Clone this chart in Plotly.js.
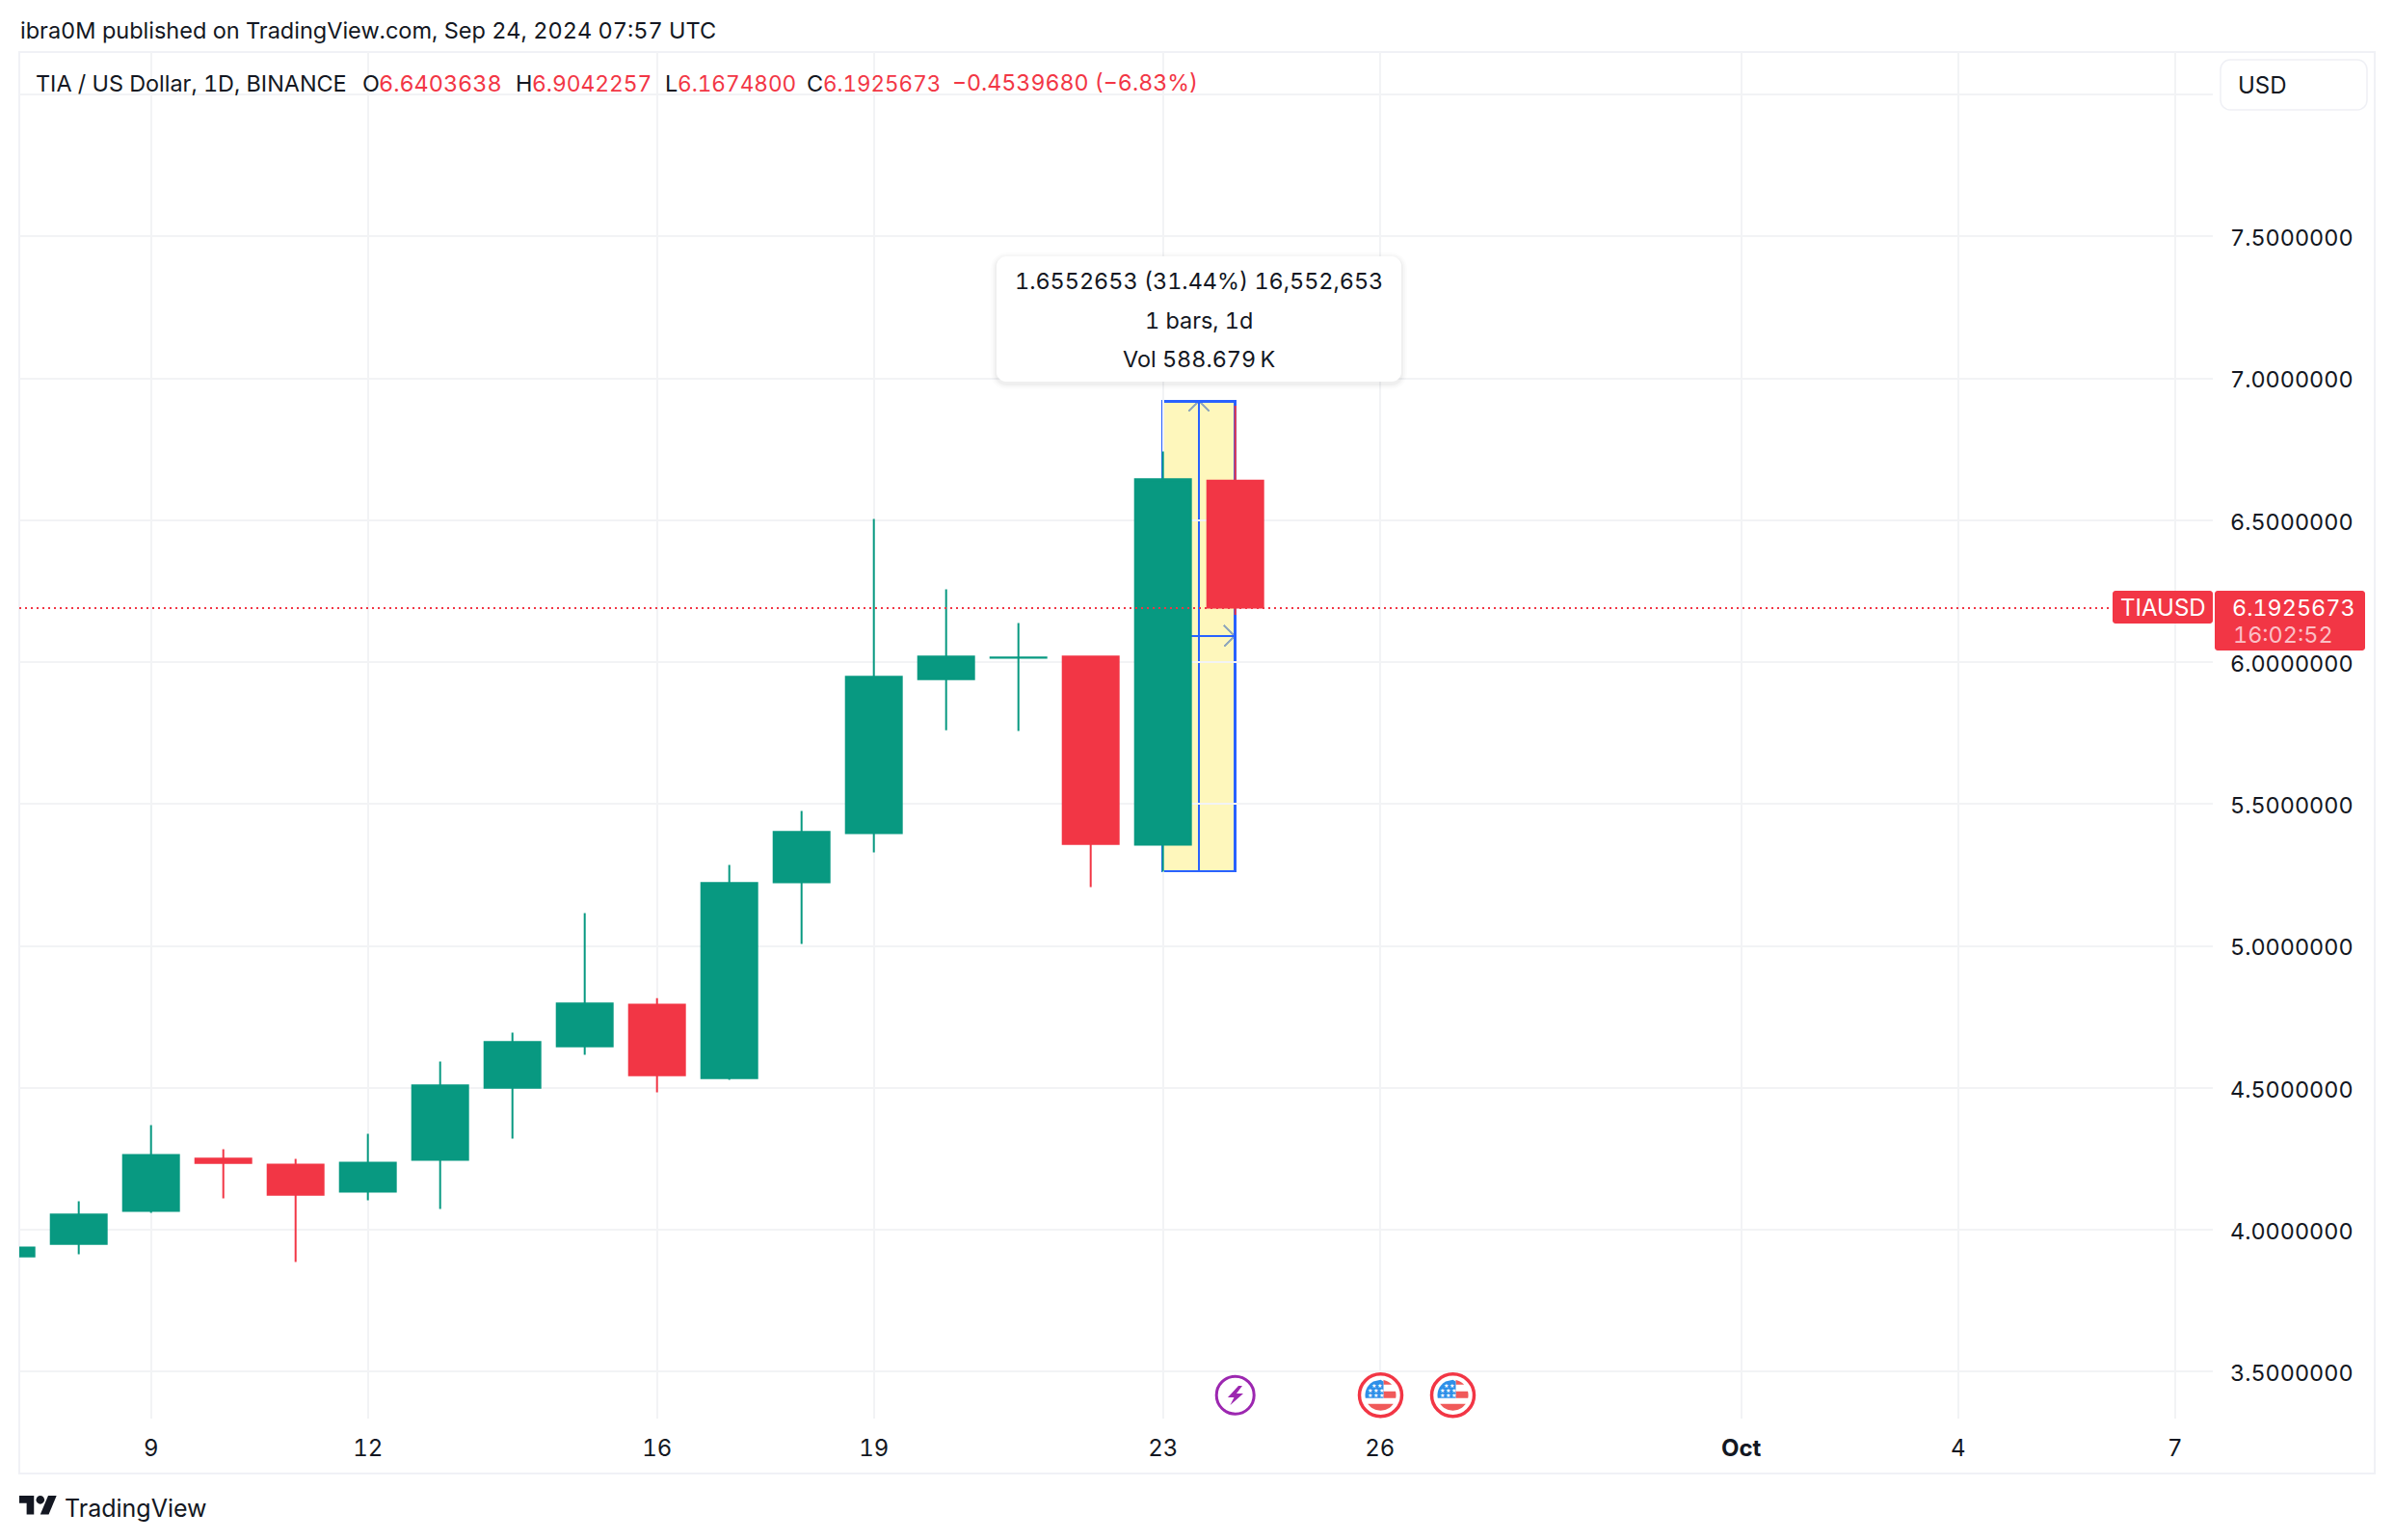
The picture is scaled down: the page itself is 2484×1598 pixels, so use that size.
<!DOCTYPE html>
<html><head><meta charset="utf-8">
<script src="https://cdn.plot.ly/plotly-3.0.1.min.js"></script>
<style>html,body{margin:0;padding:0;background:#fff}#c{width:2484px;height:1598px}
svg text{font-variant-numeric:tabular-nums;font-feature-settings:"tnum" 1}
.layer-below .shapelayer path,.cartesianlayer .shapelayer path{shape-rendering:crispEdges}
.shapelayer path[style*="dasharray"]{shape-rendering:crispEdges}
</style>
</head><body><div id="c"></div>
<script>
// ---- data ----
const dates = ['2024-09-07','2024-09-08','2024-09-09','2024-09-10','2024-09-11','2024-09-12','2024-09-13','2024-09-14','2024-09-15','2024-09-16','2024-09-17','2024-09-18','2024-09-19','2024-09-20','2024-09-21','2024-09-22','2024-09-23','2024-09-24'];
const opens  = [3.907,3.951,4.067,4.251,4.230,4.135,4.247,4.501,4.647,4.794,4.535,5.225,5.398,5.941,6.016,6.020,5.357,6.6403638];
const highs  = [3.960,4.101,4.369,4.284,4.250,4.339,4.593,4.695,5.116,4.817,5.286,5.476,6.505,6.257,6.138,6.023,6.743,6.9042257];
const lows   = [3.890,3.914,4.060,4.111,3.887,4.104,4.074,4.322,4.617,4.485,4.529,5.008,5.330,5.761,5.758,5.208,5.262,6.1674800];
const closes = [3.938,4.054,4.264,4.236,4.124,4.237,4.509,4.662,4.798,4.545,5.222,5.402,5.949,6.020,6.017,5.360,6.645,6.1925673];
const xTickVals = ['2024-09-09','2024-09-12','2024-09-16','2024-09-19','2024-09-23','2024-09-26','2024-10-01','2024-10-04','2024-10-07'];
const xTickText = ['9','12','16','19','23','26','<b>Oct</b>','4','7'];
const yTickVals = [3.5,4,4.5,5,5.5,6,6.5,7,7.5,8];
const yTickText = ['3.5000000','4.0000000','4.5000000','5.0000000','5.5000000','6.0000000','6.5000000','7.0000000','7.5000000',''];
const lastPrice = 6.1925673;
const measureLow = 5.2648, measureHigh = 6.92;
const measureStart = '2024-09-23', measureEnd = '2024-09-24';

// ---- page geometry helpers ----
const W = 2484, H = 1598;
const INK = '#131722', RED = '#f23645', GREEN = '#089981', BLUE = '#2962ff', BORDER = '#f0f1f6', GRID = '#f2f3f5';
const FONT = 'Inter, "Open Sans", sans-serif';
const FS = 23.4;
const X = p => +(p / W).toFixed(6), Y = p => +(1 - p / H).toFixed(6);
const P = (cmds) => cmds.map(c => typeof c === 'string' ? c : X(c[0]) + ',' + Y(c[1])).join(' ');
const pathShape = (d, fill, line, width, extra) => Object.assign({type:'path', xref:'paper', yref:'paper', path:d, fillcolor:fill||'rgba(0,0,0,0)', line:{color:line||'rgba(0,0,0,0)', width:width||0}}, extra||{});
function roundRect(x0,y0,x1,y1,r){
  const q=v=>v*0.45;
  return P(['M',[x0+r,y0],'L',[x1-r,y0],'C',[x1-q(r),y0],[x1,y0+q(r)],[x1,y0+r],'L',[x1,y1-r],'C',[x1,y1-q(r)],[x1-q(r),y1],[x1-r,y1],'L',[x0+r,y1],'C',[x0+q(r),y1],[x0,y1-q(r)],[x0,y1-r],'L',[x0,y0+r],'C',[x0,y0+q(r)],[x0+q(r),y0],[x0+r,y0],'Z']);
}
function circle(cx,cy,r){ return roundRect(cx-r,cy-r,cx+r,cy+r,r); }
function chordBand(cx,cy,r,y0,y1,x0,x1){
  const pts=[]; const n=10;
  const xs=y=>Math.sqrt(Math.max(0,r*r-(y-cy)*(y-cy)));
  for(let i=0;i<=n;i++){const y=y0+(y1-y0)*i/n; let x=cx+xs(y); if(x1!==undefined)x=Math.min(x,x1); if(x0!==undefined)x=Math.max(x,x0); pts.push([x,y]);}
  for(let i=n;i>=0;i--){const y=y0+(y1-y0)*i/n; let x=cx-xs(y); if(x0!==undefined)x=Math.max(x,x0); if(x1!==undefined)x=Math.min(x,x1); pts.push([x,y]);}
  return P(['M',pts[0]].concat(pts.slice(1).flatMap(p=>['L',p])).concat(['Z']));
}
function flag(cx,cy){
  const r=16, out=[];
  out.push(pathShape(circle(cx,cy,22),'#ffffff',RED,3.5));
  const fr='#f05a5a', bl='#2e8fe8';
  out.push(pathShape(chordBand(cx,cy,r,cy-r,cy-11,cx+3),fr));
  out.push(pathShape(chordBand(cx,cy,r,cy-4,cy+3,cx+3),fr));
  out.push(pathShape(chordBand(cx,cy,r,cy+9,cy+r),fr));
  out.push(pathShape(chordBand(cx,cy,r,cy-r,cy+3,cx-r,cx+3),bl));
  return out;
}
function flagStars(cx,cy){
  const a=[];
  [[-7,-10.5],[-1,-10.5],[-11,-5],[-5,-5],[1,-5],[-11,0],[-5,0],[1,0]].forEach(o=>{
    a.push({xref:'paper',yref:'paper',x:X(cx+o[0]),y:Y(cy+o[1]),text:'★',showarrow:false,xanchor:'center',yanchor:'middle',font:{size:6,color:'#fff',family:'"DejaVu Sans"'}});
  });
  return a;
}
const L = (x,y,text,size,color,anchor,extra)=>Object.assign({xref:'paper',yref:'paper',x:X(x),y:Y(y),text,showarrow:false,xanchor:anchor||'left',yanchor:'middle',align:anchor||'left',borderpad:0,font:{family:FONT,size:size||FS,color:color||INK}},extra||{});

// ---- shapes ----
const S = [];
const MW = 2.5;
S.push({type:'rect',xref:'paper',yref:'paper',x0:X(20),x1:X(2464),y0:Y(54),y1:Y(1529),line:{color:BORDER,width:2},fillcolor:'rgba(0,0,0,0)',layer:'below'});
S.push({type:'rect',xref:'x',yref:'y',x0:measureStart,x1:measureEnd,y0:measureLow,y1:measureHigh,fillcolor:'rgba(253,239,121,0.5)',line:{color:BLUE,width:MW},layer:'below'});
const midTime = '2024-09-23 12:00';
S.push({type:'line',xref:'x',yref:'y',x0:midTime,x1:midTime,y0:measureLow,y1:measureHigh,line:{color:BLUE,width:MW},layer:'below'});
const arrowRow = 6.0925;
S.push({type:'line',xref:'x',yref:'y',x0:measureStart,x1:measureEnd,y0:arrowRow,y1:arrowRow,line:{color:BLUE,width:MW},layer:'below'});
S.push(pathShape(P(['M',[1233,427],'L',[1244,416],'L',[1255,427]]),null,BLUE,MW,{layer:'below'}));
S.push(pathShape(P(['M',[1270,649],'L',[1281,660],'L',[1270,671]]),null,BLUE,MW,{layer:'below'}));
S.push({type:'line',xref:'paper',yref:'y',x0:X(20),x1:X(2188),y0:lastPrice,y1:lastPrice,line:{color:RED,width:2,dash:'2px,4px'}});
[[6,0.012],[4,0.018],[2,0.03]].forEach(s=>S.push(pathShape(roundRect(1034-s[0],266-s[0]+2,1454+s[0],396+s[0]+2,10+s[0]),'rgba(0,0,0,'+s[1]+')')));
S.push(pathShape(roundRect(1034,266,1454,396,10),'#ffffff'));
S.push(pathShape(roundRect(2304,62,2456,114,10),'#ffffff','#eff0f5',1.5));
S.push(pathShape(roundRect(2192,613,2296,647,3),RED));
S.push(pathShape(roundRect(2298,613,2454,675,3),RED));
S.push(pathShape(circle(1281.7,1447.7,19.5),'#ffffff','#9c27b0',3));
S.push(pathShape(P(['M',[1285,1438],'L',[1274,1450],'L',[1280.5,1450],'L',[1276.5,1458],'L',[1290,1446],'L',[1283,1446],'L',[1289,1438],'Z']),'#9c27b0'));
flag(1432.5,1447.7).forEach(s=>S.push(s));
flag(1507.5,1447.7).forEach(s=>S.push(s));
const lg=(x,y)=>[20+x*1.09,1552+(y-4)*1.09];
S.push(pathShape(P(['M',lg(14,22),'L',lg(7,22),'L',lg(7,11),'L',lg(0,11),'L',lg(0,4),'L',lg(14,4),'Z']),INK));
S.push(pathShape(P(['M',lg(28,22),'L',lg(20,22),'L',lg(27.5,4),'L',lg(35.5,4),'Z']),INK));
S.push(pathShape(circle(lg(20,8)[0],lg(20,8)[1],4.3),INK));

// ---- texts ----
const A = [
  L(20,32,'ibra0M published on TradingView.com, Sep 24, 2024 07:57 UTC',23.5),
  L(36,86.5,'TIA / US Dollar, 1D, BINANCE'),
  L(375,86.5,'O'), L(392,86.5,'6.6403638',FS,RED),
  L(534,86.5,'H'), L(551,86.5,'6.9042257',22.8,RED),
  L(689,86.5,'L'), L(702,86.5,'6.1674800',22.6,RED),
  L(836,86.5,'C'), L(853,86.5,'6.1925673',22.4,RED),
  L(987,86.5,'\u22120.4539680 (\u22126.83%)',23.2,RED),
  L(1244,292,'1.6552653 (31.44%) 16,552,653',FS,INK,'center'),
  L(1244,332,'1 bars, 1d',FS,INK,'center'),
  L(1244,372,'Vol 588.679\u2009K',FS,INK,'center'),
  L(2321,88,'USD',24),
  L(2244,630.5,'TIAUSD',24,'#ffffff','center'),
  L(2315,630.5,'6.1925673',FS,'#ffffff'),
  L(2316,658,'16:02:52',FS,'#fbbfc5'),
  L(66,1565,'TradingView',25)
].concat(flagStars(1432.5,1447.7),flagStars(1507.5,1447.7));

// ---- plot ----
const trace = {type:'candlestick',x:dates,open:opens,high:highs,low:lows,close:closes,
  increasing:{line:{color:GREEN,width:2},fillcolor:GREEN},
  decreasing:{line:{color:RED,width:2},fillcolor:RED},
  whiskerwidth:0,hoverinfo:'skip',showlegend:false};
const dayPx = 75, sep9Px = 156.7, msDay = 864e5;
const t9 = Date.UTC(2024,8,9);
const xAt = p => new Date(t9 + (p - sep9Px)/dayPx*msDay).toISOString().replace('T',' ').replace('Z','');
const priceAt = p => 7.5 - (p - 245.5)/294.5;
const layout = {
  width:W,height:H,margin:{l:0,r:0,t:0,b:0,pad:0},paper_bgcolor:'#fff',plot_bgcolor:'#fff',
  showlegend:false,boxgap:0.227,boxgroupgap:0,hovermode:false,dragmode:false,
  xaxis:{type:'date',domain:[X(20),X(2296)],range:[xAt(20),xAt(2296)],rangeslider:{visible:false},
    tickmode:'array',tickvals:xTickVals,ticktext:xTickText,showgrid:true,gridcolor:GRID,gridwidth:2,zeroline:false,showline:false,ticks:'',ticklabelstandoff:14,
    tickfont:{family:FONT,size:24,color:INK},automargin:false,tickangle:0,fixedrange:true},
  yaxis:{side:'right',domain:[Y(1472),Y(54)],range:[priceAt(1472),priceAt(54)],
    tickmode:'array',tickvals:yTickVals,ticktext:yTickText,showgrid:true,gridcolor:GRID,gridwidth:2,zeroline:false,showline:false,ticks:'',ticklabelstandoff:17,
    tickfont:{family:FONT,size:FS,color:INK},automargin:false,fixedrange:true},
  shapes:S,annotations:A
};
Plotly.newPlot('c',[trace],layout,{staticPlot:true,displayModeBar:false,responsive:false}).then(()=>{
  document.querySelectorAll('.ytick text').forEach(t=>t.setAttribute('dy','1.5'));
});
</script></body></html>
